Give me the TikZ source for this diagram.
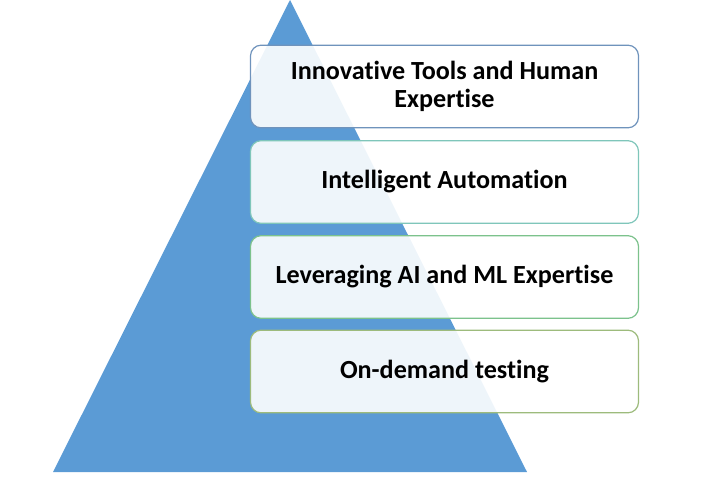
\documentclass[tikz,border=0pt]{standalone}
\usepackage{fontspec}
\setmainfont{Carlito}[Ligatures={NoCommon}]
\usepackage{tikz}
\usepackage{xcolor}
\usetikzlibrary{positioning}
\definecolor{pyblue}{HTML}{5B9BD5}
\definecolor{edgeA}{HTML}{6F93BC}
\definecolor{edgeB}{HTML}{7FC6BA}
\definecolor{edgeC}{HTML}{7CC28C}
\definecolor{edgeD}{HTML}{9DBB7C}
\tikzset{
  levelBox/.style={rounded corners=8pt, fill=white, fill opacity=0.9, text opacity=1,
    line width=0.9pt, minimum width=291pt, minimum height=62pt, align=center,
    font=\bfseries\fontsize{19.6}{21.5}\selectfont, inner sep=2pt},
  pyramid/.style={fill=pyblue, draw=none}
}

\begin{document}
\begin{tikzpicture}[x=0.75pt,y=-0.75pt]
  \useasboundingbox (0,0) rectangle (724,478);
  % pyramid
  \coordinate (apex) at (290,0);
  \coordinate (baseL) at (53,472);
  \coordinate (baseR) at (527,472);
  \fill[pyramid] (apex) -- (baseR) -- (baseL) -- cycle;
  % levels
  \node[levelBox, draw=edgeA] (tools) at (444.5,86.5) {Innovative Tools and Human\\ Expertise};
  \node[levelBox, draw=edgeB] (auto) at (444.5,182) {Intelligent Automation};
  \node[levelBox, draw=edgeC] (aiml) at (444.5,277) {Leveraging AI and ML Expertise};
  \node[levelBox, draw=edgeD] (demand) at (444.5,371.5) {On-demand testing};
\end{tikzpicture}
\end{document}
